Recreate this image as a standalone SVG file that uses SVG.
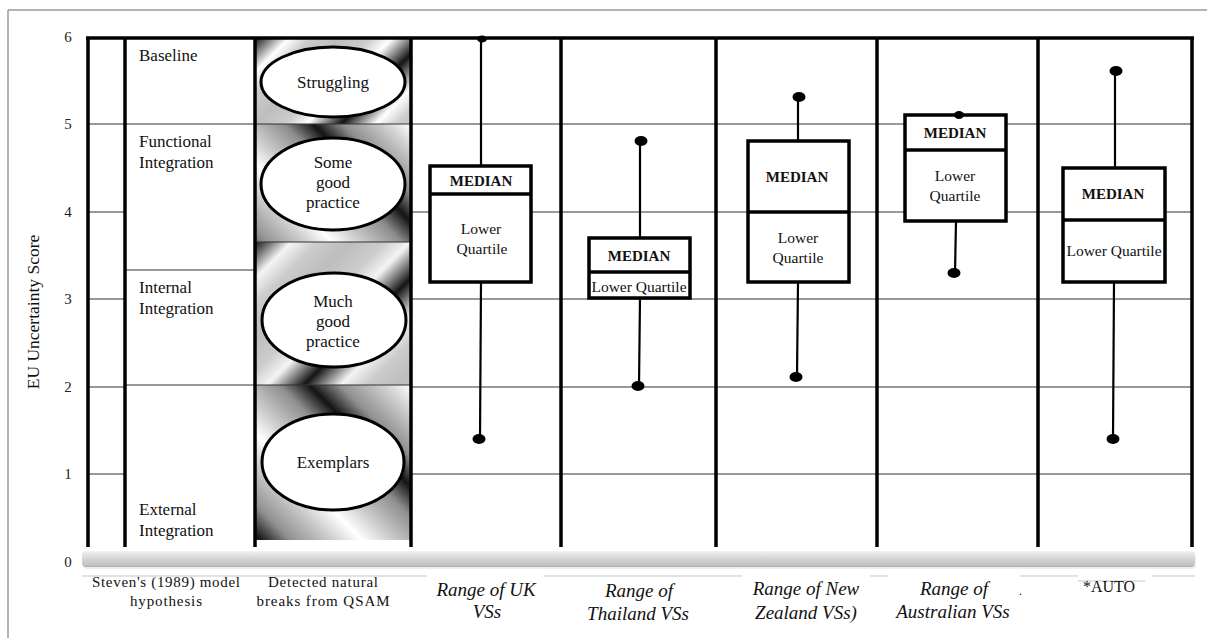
<svg xmlns="http://www.w3.org/2000/svg" width="1207" height="638" viewBox="0 0 1207 638">
  <style>
    .t { font-family: "Liberation Serif", "Times New Roman", serif; fill: #111; }
    .lab { font-size: 17px; }
    .tick { font-size: 15px; text-anchor: middle; fill: #222; }
    .cat { font-size: 15px; text-anchor: middle; }
    .rng { font-size: 19px; font-style: italic; text-anchor: middle; }
    .med { font-size: 15px; font-weight: bold; text-anchor: middle; }
    .lq { font-size: 15.5px; text-anchor: middle; }
    .ov { font-size: 17px; text-anchor: middle; }
    .thick { stroke: #000; stroke-width: 3.5; fill: none; }
    .grid { stroke: #333; stroke-width: 1.2; fill: none; }
    .box { stroke: #000; stroke-width: 3.5; fill: #fff; }
    .whisk { stroke: #000; stroke-width: 2.2; fill: none; }
    .dot { fill: #000; }
    .oval { fill: #fff; stroke: #000; stroke-width: 3; }
    .faint { stroke: #d8d8d8; stroke-width: 1.5; }
  </style>
  <defs>
    <linearGradient id="shadeA" gradientUnits="userSpaceOnUse" x1="255" y1="38" x2="298" y2="81" spreadMethod="reflect">
      <stop offset="0" stop-color="#141414"/>
      <stop offset="0.4" stop-color="#ffffff"/>
      <stop offset="0.65" stop-color="#cccccc"/>
      <stop offset="1" stop-color="#bdbdbd"/>
    </linearGradient>
    <linearGradient id="shadeB" gradientUnits="userSpaceOnUse" x1="411" y1="124" x2="362" y2="173" spreadMethod="reflect">
      <stop offset="0" stop-color="#ffffff"/>
      <stop offset="0.3" stop-color="#cbcbcb"/>
      <stop offset="0.7" stop-color="#8e8e8e"/>
      <stop offset="1" stop-color="#141414"/>
    </linearGradient>
    <linearGradient id="shadeC" gradientUnits="userSpaceOnUse" x1="255" y1="242" x2="303" y2="290" spreadMethod="reflect">
      <stop offset="0" stop-color="#141414"/>
      <stop offset="0.38" stop-color="#f4f4f4"/>
      <stop offset="0.65" stop-color="#cccccc"/>
      <stop offset="1" stop-color="#bdbdbd"/>
    </linearGradient>
    <linearGradient id="shadeD" gradientUnits="userSpaceOnUse" x1="411" y1="385" x2="360" y2="436" spreadMethod="reflect">
      <stop offset="0" stop-color="#ffffff"/>
      <stop offset="0.3" stop-color="#cccccc"/>
      <stop offset="0.7" stop-color="#909090"/>
      <stop offset="1" stop-color="#141414"/>
    </linearGradient>
    <linearGradient id="bar" x1="0" y1="0" x2="0" y2="1">
      <stop offset="0" stop-color="#f2f2f2"/>
      <stop offset="0.45" stop-color="#d6d6d6"/>
      <stop offset="0.9" stop-color="#c2c2c2"/>
      <stop offset="1" stop-color="#a8a8a8"/>
    </linearGradient>
  </defs>

  <!-- page frame -->
  <g id="frame">
    <line x1="8" y1="10" x2="1207" y2="10" stroke="#9a9a9a" stroke-width="1.5"/>
    <line x1="8" y1="10" x2="8" y2="638" stroke="#9a9a9a" stroke-width="1.5"/>
  </g>

  <!-- shaded column of natural breaks -->
  <g id="breaks-shading">
    <rect x="256" y="38" width="155" height="86" fill="url(#shadeA)"/>
    <rect x="256" y="124" width="155" height="118" fill="url(#shadeB)"/>
    <rect x="256" y="242" width="155" height="143" fill="url(#shadeC)"/>
    <rect x="256" y="385" width="155" height="155" fill="url(#shadeD)"/>
  </g>

  <!-- grid lines -->
  <g id="grid">
    <line class="grid" x1="88" y1="124" x2="1192" y2="124"/>
    <line class="grid" x1="88" y1="212" x2="125" y2="212"/>
    <line class="grid" x1="411" y1="212" x2="1192" y2="212"/>
    <line class="grid" x1="88" y1="299" x2="125" y2="299"/>
    <line class="grid" x1="411" y1="299" x2="1192" y2="299"/>
    <line class="grid" x1="88" y1="387" x2="125" y2="387"/>
    <line class="grid" x1="125" y1="385" x2="411" y2="385"/>
    <line class="grid" x1="411" y1="387" x2="1192" y2="387"/>
    <line class="grid" x1="88" y1="474" x2="125" y2="474"/>
    <line class="grid" x1="411" y1="474" x2="1192" y2="474"/>
    <line class="grid" x1="125" y1="270" x2="255" y2="270"/>
    <line class="grid" x1="255" y1="242" x2="411" y2="242"/>
  </g>

  <!-- column rules -->
  <g id="columns">
    <line class="thick" x1="86" y1="38" x2="1194" y2="38"/>
    <line class="thick" x1="88" y1="38" x2="88" y2="547"/>
    <line class="thick" x1="125" y1="38" x2="125" y2="547"/>
    <line class="thick" x1="255" y1="38" x2="255" y2="547"/>
    <line class="thick" x1="411" y1="38" x2="411" y2="547"/>
    <line class="thick" x1="561" y1="38" x2="561" y2="547"/>
    <line class="thick" x1="716" y1="38" x2="716" y2="547"/>
    <line class="thick" x1="877" y1="38" x2="877" y2="547"/>
    <line class="thick" x1="1038" y1="38" x2="1038" y2="547"/>
    <line class="thick" x1="1192" y1="38" x2="1192" y2="547"/>
  </g>

  <!-- base bar -->
  <g id="base-bar">
    <rect x="83" y="553" width="1113" height="16" rx="4" fill="#e4e4e4" opacity="0.6"/>
    <rect x="82" y="551" width="1113" height="16" rx="4" fill="url(#bar)"/>
    <line class="faint" x1="82" y1="576" x2="427" y2="576"/>
    <line class="faint" x1="544" y1="576" x2="742" y2="576"/>
    <line class="faint" x1="870" y1="576" x2="888" y2="576"/>
    <line class="faint" x1="1020" y1="576" x2="1078" y2="576"/>
    <line class="faint" x1="1078" y1="581" x2="1145" y2="581"/>
    <line class="faint" x1="1152" y1="576" x2="1195" y2="576"/>
  </g>

  <!-- y axis -->
  <g id="y-axis">
    <text class="t tick" x="68" y="42">6</text>
    <text class="t tick" x="68" y="129">5</text>
    <text class="t tick" x="68" y="217">4</text>
    <text class="t tick" x="68" y="304">3</text>
    <text class="t tick" x="68" y="392">2</text>
    <text class="t tick" x="68" y="479">1</text>
    <text class="t tick" x="68" y="567">0</text>
    <text class="t" x="0" y="0" font-size="17.5" fill="#333" text-anchor="middle" transform="translate(39 312) rotate(-90)">EU Uncertainty Score</text>
  </g>

  <!-- Stevens model stages -->
  <g id="stage-baseline">
    <text class="t lab" x="139" y="61">Baseline</text>
  </g>
  <g id="stage-functional">
    <text class="t lab" x="139" y="147">Functional</text>
    <text class="t lab" x="139" y="168">Integration</text>
  </g>
  <g id="stage-internal">
    <text class="t lab" x="139" y="293">Internal</text>
    <text class="t lab" x="139" y="314">Integration</text>
  </g>
  <g id="stage-external">
    <text class="t lab" x="139" y="515">External</text>
    <text class="t lab" x="139" y="536">Integration</text>
  </g>

  <!-- natural break groups -->
  <g id="break-struggling">
    <ellipse class="oval" cx="333" cy="82" rx="72" ry="35"/>
    <text class="t ov" x="333" y="88">Struggling</text>
  </g>
  <g id="break-some-good">
    <ellipse class="oval" cx="333" cy="184" rx="72" ry="46"/>
    <text class="t ov" x="333" y="168">Some</text>
    <text class="t ov" x="333" y="188">good</text>
    <text class="t ov" x="333" y="208">practice</text>
  </g>
  <g id="break-much-good">
    <ellipse class="oval" cx="334" cy="320" rx="72" ry="47"/>
    <text class="t ov" x="333" y="307">Much</text>
    <text class="t ov" x="333" y="327">good</text>
    <text class="t ov" x="333" y="347">practice</text>
  </g>
  <g id="break-exemplars">
    <ellipse class="oval" cx="333" cy="462" rx="71" ry="48"/>
    <text class="t ov" x="333" y="468">Exemplars</text>
  </g>

  <!-- box plots -->
  <g id="whiskers">
    <line class="whisk" x1="481" y1="39" x2="481" y2="166"/>
    <line class="whisk" x1="481" y1="282" x2="480" y2="439"/>
    <line class="whisk" x1="640" y1="141" x2="640" y2="238"/>
    <line class="whisk" x1="640" y1="298" x2="639" y2="386"/>
    <line class="whisk" x1="798" y1="97" x2="798" y2="141"/>
    <line class="whisk" x1="798" y1="282" x2="797" y2="377"/>
    <line class="whisk" x1="956" y1="221" x2="955" y2="273"/>
    <line class="whisk" x1="1115" y1="71" x2="1115" y2="168"/>
    <line class="whisk" x1="1114" y1="282" x2="1113" y2="439"/>
  </g>

  <g id="box-uk">
    <rect class="box" x="430" y="166" width="101" height="116"/>
    <line class="box" x1="430" y1="194" x2="531" y2="194"/>
    <ellipse class="dot" cx="482" cy="39" rx="5" ry="3.5"/>
    <ellipse class="dot" cx="479" cy="439" rx="6.5" ry="5"/>
    <text class="t med" x="481" y="186">MEDIAN</text>
    <text class="t lq" x="481" y="234">Lower</text>
    <text class="t lq" x="482" y="254">Quartile</text>
  </g>
  <g id="box-thailand">
    <rect class="box" x="589" y="238" width="101" height="60"/>
    <line class="box" x1="589" y1="272" x2="690" y2="272"/>
    <ellipse class="dot" cx="641" cy="141" rx="6.5" ry="5"/>
    <ellipse class="dot" cx="638" cy="386" rx="6.5" ry="5"/>
    <text class="t med" x="639" y="261">MEDIAN</text>
    <text class="t lq" x="639" y="292">Lower Quartile</text>
  </g>
  <g id="box-new-zealand">
    <rect class="box" x="748" y="141" width="101" height="141"/>
    <line class="box" x1="748" y1="212" x2="849" y2="212"/>
    <ellipse class="dot" cx="799" cy="97" rx="6.5" ry="5"/>
    <ellipse class="dot" cx="796" cy="377" rx="6.5" ry="5"/>
    <text class="t med" x="797" y="182">MEDIAN</text>
    <text class="t lq" x="798" y="243">Lower</text>
    <text class="t lq" x="798" y="263">Quartile</text>
  </g>
  <g id="box-australia">
    <rect class="box" x="905" y="115" width="101" height="106"/>
    <line class="box" x1="905" y1="150" x2="1006" y2="150"/>
    <ellipse class="dot" cx="959" cy="115" rx="5" ry="4"/>
    <ellipse class="dot" cx="954" cy="273" rx="6.5" ry="5"/>
    <text class="t med" x="955" y="138">MEDIAN</text>
    <text class="t lq" x="955" y="181">Lower</text>
    <text class="t lq" x="955" y="201">Quartile</text>
  </g>
  <g id="box-auto">
    <rect class="box" x="1063" y="168" width="102" height="114"/>
    <line class="box" x1="1063" y1="220" x2="1165" y2="220"/>
    <ellipse class="dot" cx="1116" cy="71" rx="6.5" ry="5"/>
    <ellipse class="dot" cx="1113" cy="439" rx="6.5" ry="5"/>
    <text class="t med" x="1113" y="199">MEDIAN</text>
    <text class="t lq" x="1114" y="256">Lower Quartile</text>
  </g>

  <!-- column captions -->
  <g id="caption-stevens">
    <text class="t cat" x="166" y="587" textLength="148">Steven's (1989) model</text>
    <text class="t cat" x="166" y="606" textLength="72">hypothesis</text>
  </g>
  <g id="caption-breaks">
    <text class="t cat" x="323" y="587" textLength="110">Detected natural</text>
    <text class="t cat" x="323" y="606" textLength="133">breaks from QSAM</text>
  </g>
  <g id="caption-uk">
    <text class="t rng" x="486" y="596">Range of UK</text>
    <text class="t rng" x="487" y="618">VSs</text>
  </g>
  <g id="caption-thailand">
    <text class="t rng" x="639" y="597">Range of</text>
    <text class="t rng" x="638" y="620">Thailand VSs</text>
  </g>
  <g id="caption-new-zealand">
    <text class="t rng" x="806" y="595">Range of New</text>
    <text class="t rng" x="806" y="619">Zealand VSs)</text>
  </g>
  <g id="caption-australia">
    <text class="t rng" x="954" y="595">Range of</text>
    <text class="t rng" x="953" y="618">Australian VSs</text>
    <text class="t" x="1019" y="595" font-size="12">.</text>
  </g>
  <g id="caption-auto">
    <text class="t" x="1109" y="592" font-size="16" text-anchor="middle">*AUTO</text>
  </g>
</svg>
